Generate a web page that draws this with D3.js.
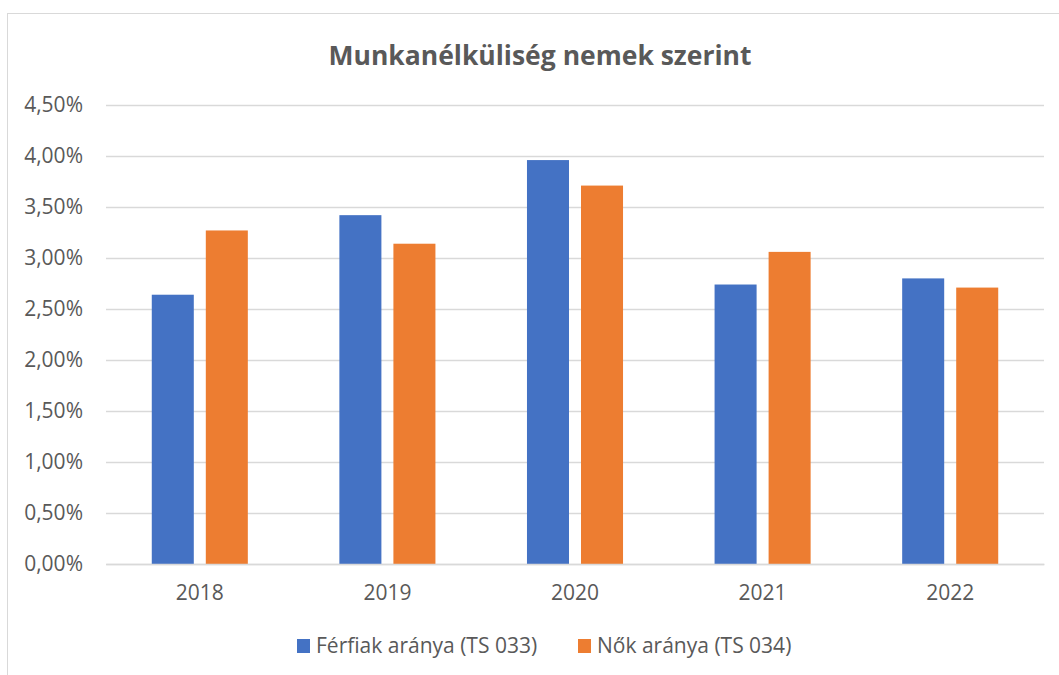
<!DOCTYPE html>
<html>
<head>
<meta charset="utf-8">
<script src="https://cdn.jsdelivr.net/npm/d3@7"></script>
<style>
  html, body { margin: 0; padding: 0; background: #fff; }
  svg { display: block; }
  text { font-family: "Open Sans", "Lato", sans-serif; }
</style>
</head>
<body>
<svg id="chart" width="1059" height="675"></svg>
<script>
const years = ["2018", "2019", "2020", "2021", "2022"];
const seriesNames = ["Férfiak aránya (TS 033)", "Nők aránya (TS 034)"];
const ferfiak = [2.64, 3.42, 3.96, 2.74, 2.80];
const nok = [3.27, 3.14, 3.71, 3.06, 2.71];
const yTicks = [0, 0.5, 1, 1.5, 2, 2.5, 3, 3.5, 4, 4.5];
const colors = ["#4472C4", "#ED7D31"];
const title = "Munkanélküliség nemek szerint";

const svg = d3.select("#chart");
const W = 1059, H = 675;
const FONT = "'Open Sans', Lato, sans-serif";
const FS = 21;

// chart frame
svg.append("rect")
  .attr("x", 7.5).attr("y", 13.5)
  .attr("width", W + 10).attr("height", H + 10)
  .attr("fill", "#fff").attr("stroke", "#d9d9d9").attr("stroke-width", 1);

const plot = { left: 106, right: 1044, top: 105, bottom: 564 };

const x = d3.scaleBand().domain(years).range([plot.left, plot.right]).padding(0);
const y = d3.scaleLinear().domain([0, 4.5]).range([plot.bottom, plot.top]);
const barW = x.bandwidth() * 0.224;
const gap = x.bandwidth() * 0.064;
const inner = d3.scaleOrdinal().domain([0, 1]).range([-gap / 2 - barW, gap / 2]);

// title
svg.append("text")
  .attr("x", 540).attr("y", 65)
  .attr("text-anchor", "middle")
  .attr("font-size", 26.5).attr("font-weight", "bold")
  .attr("fill", "#595959")
  .style("font-family", FONT)
  .text(title);

// gridlines
const fmt = v => v.toFixed(2).replace(".", ",") + "%";
const yAxis = d3.axisLeft(y).tickValues(yTicks).tickFormat(fmt)
  .tickSize(-(plot.right - plot.left)).tickPadding(23);
const gy = svg.append("g").attr("transform", `translate(${plot.left},0)`).call(yAxis);
gy.select(".domain").remove();
gy.selectAll(".tick line").attr("stroke", "#d9d9d9").attr("stroke-width", 1.3);
gy.selectAll(".tick text").attr("fill", "#595959").attr("font-size", FS)
  .style("font-family", FONT);

// bars
const data = years.map((yr, i) => ({ yr, vals: [ferfiak[i], nok[i]] }));
const groups = svg.append("g").selectAll("g").data(data).join("g")
  .attr("transform", d => `translate(${x(d.yr) + x.bandwidth() / 2},0)`);
groups.selectAll("rect").data(d => d.vals.map((v, k) => ({ v, k }))).join("rect")
  .attr("x", d => inner(d.k))
  .attr("width", barW)
  .attr("y", d => y(d.v))
  .attr("height", d => y(0) - y(d.v))
  .attr("fill", d => colors[d.k]);

// x axis
const xAxis = d3.axisBottom(x).tickSize(0).tickPadding(21);
const gx = svg.append("g").attr("transform", `translate(0,${plot.bottom})`).call(xAxis);
gx.select(".domain").attr("stroke", "#d9d9d9").attr("stroke-width", 1.3);
gx.selectAll(".tick text").attr("fill", "#595959").attr("font-size", FS)
  .style("font-family", FONT);

// legend
const legendX = [297, 578];
const lg = svg.append("g").selectAll("g").data(seriesNames).join("g")
  .attr("transform", (d, i) => `translate(${legendX[i]},646)`);
lg.append("rect").attr("x", 0).attr("y", -7).attr("width", 13).attr("height", 14)
  .attr("fill", (d, i) => colors[i]);
lg.append("text").attr("x", 19).attr("y", 0).attr("dy", "0.35em")
  .attr("font-size", FS).attr("fill", "#595959")
  .style("font-family", FONT).text(d => d);
</script>
</body>
</html>
